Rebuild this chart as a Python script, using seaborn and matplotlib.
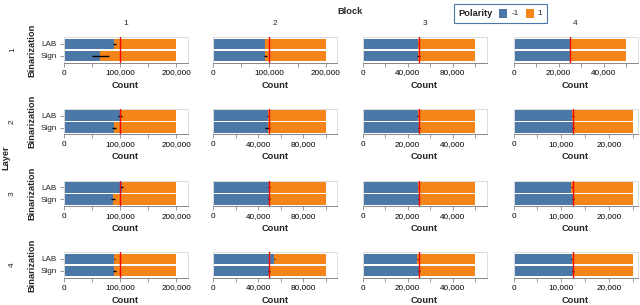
import numpy as np
import pandas as pd
import matplotlib
matplotlib.use("Agg")
import matplotlib.pyplot as plt
import seaborn as sns
from matplotlib.ticker import MultipleLocator, FuncFormatter
from matplotlib.patches import Rectangle

# ---------------- data ----------------
layers = [1, 2, 3, 4]
blocks = [1, 2, 3, 4]
binarizations = ["LAB", "Sign"]
polarity_labels = ["-1", "1"]

# total count per (layer, block)
totals = [
    [200000, 200000, 100000, 50000],
    [200000, 100000, 50000, 25000],
    [200000, 100000, 50000, 25000],
    [200000, 100000, 50000, 25000],
]
# count of polarity -1 (rest is polarity 1)
neg_lab = [
    [90000, 92000, 49500, 25000],
    [100000, 48500, 24400, 12300],
    [104000, 49500, 24700, 12100],
    [90000, 54500, 24200, 12200],
]
neg_sign = [
    [64000, 92000, 49500, 25000],
    [90000, 49000, 25200, 12400],
    [88000, 49500, 24900, 12400],
    [90000, 50000, 24900, 12400],
]
# error bar extents for the -1 count
err_lab_lo = [
    [87000, 91500, 49000, 24850],
    [97000, 48000, 24200, 12250],
    [101000, 49000, 24500, 12050],
    [89000, 54000, 24000, 12150],
]
err_lab_hi = [
    [94000, 93000, 50500, 25150],
    [103000, 49200, 24700, 12600],
    [106000, 50500, 24900, 12250],
    [92000, 55000, 24500, 12300],
]
err_sign_lo = [
    [50000, 90000, 48500, 24850],
    [86000, 46500, 24800, 12350],
    [84000, 48500, 24600, 12300],
    [87000, 49000, 24600, 12300],
]
err_sign_hi = [
    [80000, 95000, 51000, 25150],
    [93000, 51000, 25500, 12600],
    [91000, 51000, 25200, 12600],
    [93000, 51000, 25300, 12600],
]
# x-axis domain end per cell
x_max = [
    [220000, 220000, 110000, 55000],
    [220000, 110000, 55000, 26000],
    [220000, 110000, 55000, 26000],
    [220000, 110000, 55000, 26000],
]

rows = []
for li, L in enumerate(layers):
    for bi, B in enumerate(blocks):
        for k, (neg, lo, hi) in enumerate([
            (neg_lab, err_lab_lo, err_lab_hi),
            (neg_sign, err_sign_lo, err_sign_hi),
        ]):
            rows.append(dict(Layer=L, Block=B, Binarization=binarizations[k],
                             Neg=neg[li][bi], Total=totals[li][bi],
                             Lo=lo[li][bi], Hi=hi[li][bi]))
df = pd.DataFrame(rows)

# ---------------- style ----------------
sns.set_style("white")
plt.rcParams["font.family"] = ["Liberation Sans", "DejaVu Sans"]

BLUE = "#4c78a8"
ORANGE = "#f58518"
GRID = "#dddddd"
AXC = "#888888"

W, H = 640, 305
fig = plt.figure(figsize=(W / 100, H / 100), dpi=100)

col_x = [63.5, 213.0, 362.5, 513.5]
row_y = [37.3, 109.0, 180.7, 252.3]
cw, ch = 124.0, 25.3

LBL = 5.9
TTL = 6.7

step_for = {200000: 50000, 100000: 20000, 50000: 10000, 25000: 5000}


def px(x, y):
    return x / W, 1 - y / H


for li, L in enumerate(layers):
    for bi, B in enumerate(blocks):
        left, top = col_x[bi], row_y[li]
        ax = fig.add_axes([left / W, 1 - (top + ch) / H, cw / W, ch / H])
        sub = df[(df.Layer == L) & (df.Block == B)]
        sns.barplot(data=sub, y="Binarization", x="Total", order=binarizations,
                    color=ORANGE, saturation=1, orient="h", width=0.86,
                    errorbar=None, linewidth=0, ax=ax)
        sns.barplot(data=sub, y="Binarization", x="Neg", order=binarizations,
                    color=BLUE, saturation=1, orient="h", width=0.86,
                    errorbar=None, linewidth=0, ax=ax)
        ypos = [binarizations.index(b) for b in sub["Binarization"]]
        ax.hlines(ypos, sub["Lo"], sub["Hi"], color="black", lw=1.0, zorder=5)
        tot = totals[li][bi]
        ax.axvline(tot / 2, color="red", lw=1.0, zorder=6)
        ax.set_xlim(0, x_max[li][bi])
        ax.set_ylim(1.55, -0.55)

        step = step_for[tot]
        ax.xaxis.set_major_locator(MultipleLocator(step))
        ax.xaxis.set_major_formatter(FuncFormatter(
            lambda v, p, s=step: f"{int(round(v)):,}" if round(v) % (2 * s) == 0 else ""))
        ax.tick_params(axis="x", length=3.2, width=0.6, color=AXC, pad=1.8,
                       labelsize=LBL, labelcolor="#000000", bottom=True)
        ax.set_xlabel("Count", fontsize=TTL, fontweight="bold", labelpad=3)

        if bi == 0:
            ax.tick_params(axis="y", length=3.2, width=0.6, color=AXC, pad=1.5,
                           labelsize=LBL, left=True)
            ax.set_ylabel("Binarization", fontsize=TTL, fontweight="bold", labelpad=3)
        else:
            ax.set_yticks([])
            ax.set_ylabel("")

        for s in ["top", "right", "left"]:
            ax.spines[s].set_color(GRID)
            ax.spines[s].set_linewidth(0.7)
        ax.spines["bottom"].set_color(AXC)
        ax.spines["bottom"].set_linewidth(0.7)
        ax.set_facecolor("white")

# column headers
fig.text(*px(350.5, 12), "Block", ha="center", va="center",
         fontsize=TTL, fontweight="bold")
for bi, B in enumerate(blocks):
    fig.text(*px(col_x[bi] + cw / 2, 23.5), str(B), ha="center", va="center",
             fontsize=6.0)
# row headers
fig.text(*px(5.5, 157.3), "Layer", ha="center", va="center", rotation=90,
         fontsize=TTL, fontweight="bold")
for li, L in enumerate(layers):
    fig.text(*px(12.5, row_y[li] + ch / 2), str(L), ha="center", va="center",
             rotation=90, fontsize=6.0)

# legend
lx0, ly0, lx1, ly1 = 454, 4, 547, 23
fig.patches.append(Rectangle(px(lx0, ly1), (lx1 - lx0) / W, (ly1 - ly0) / H,
                             transform=fig.transFigure, facecolor="white",
                             edgecolor=BLUE, lw=0.8))
cy = 13.5
fig.text(*px(458, cy), "Polarity", ha="left", va="center",
         fontsize=TTL, fontweight="bold")
sq = 8
for (x0, col, lab, tx) in [(499, BLUE, polarity_labels[0], 511.5),
                           (526, ORANGE, polarity_labels[1], 537.5)]:
    fig.patches.append(Rectangle(px(x0, cy + sq / 2), sq / W, sq / H,
                                 transform=fig.transFigure, facecolor=col,
                                 edgecolor="none"))
    fig.text(*px(tx, cy), lab, ha="left", va="center", fontsize=LBL)

fig.savefig("out.png", dpi=100)
